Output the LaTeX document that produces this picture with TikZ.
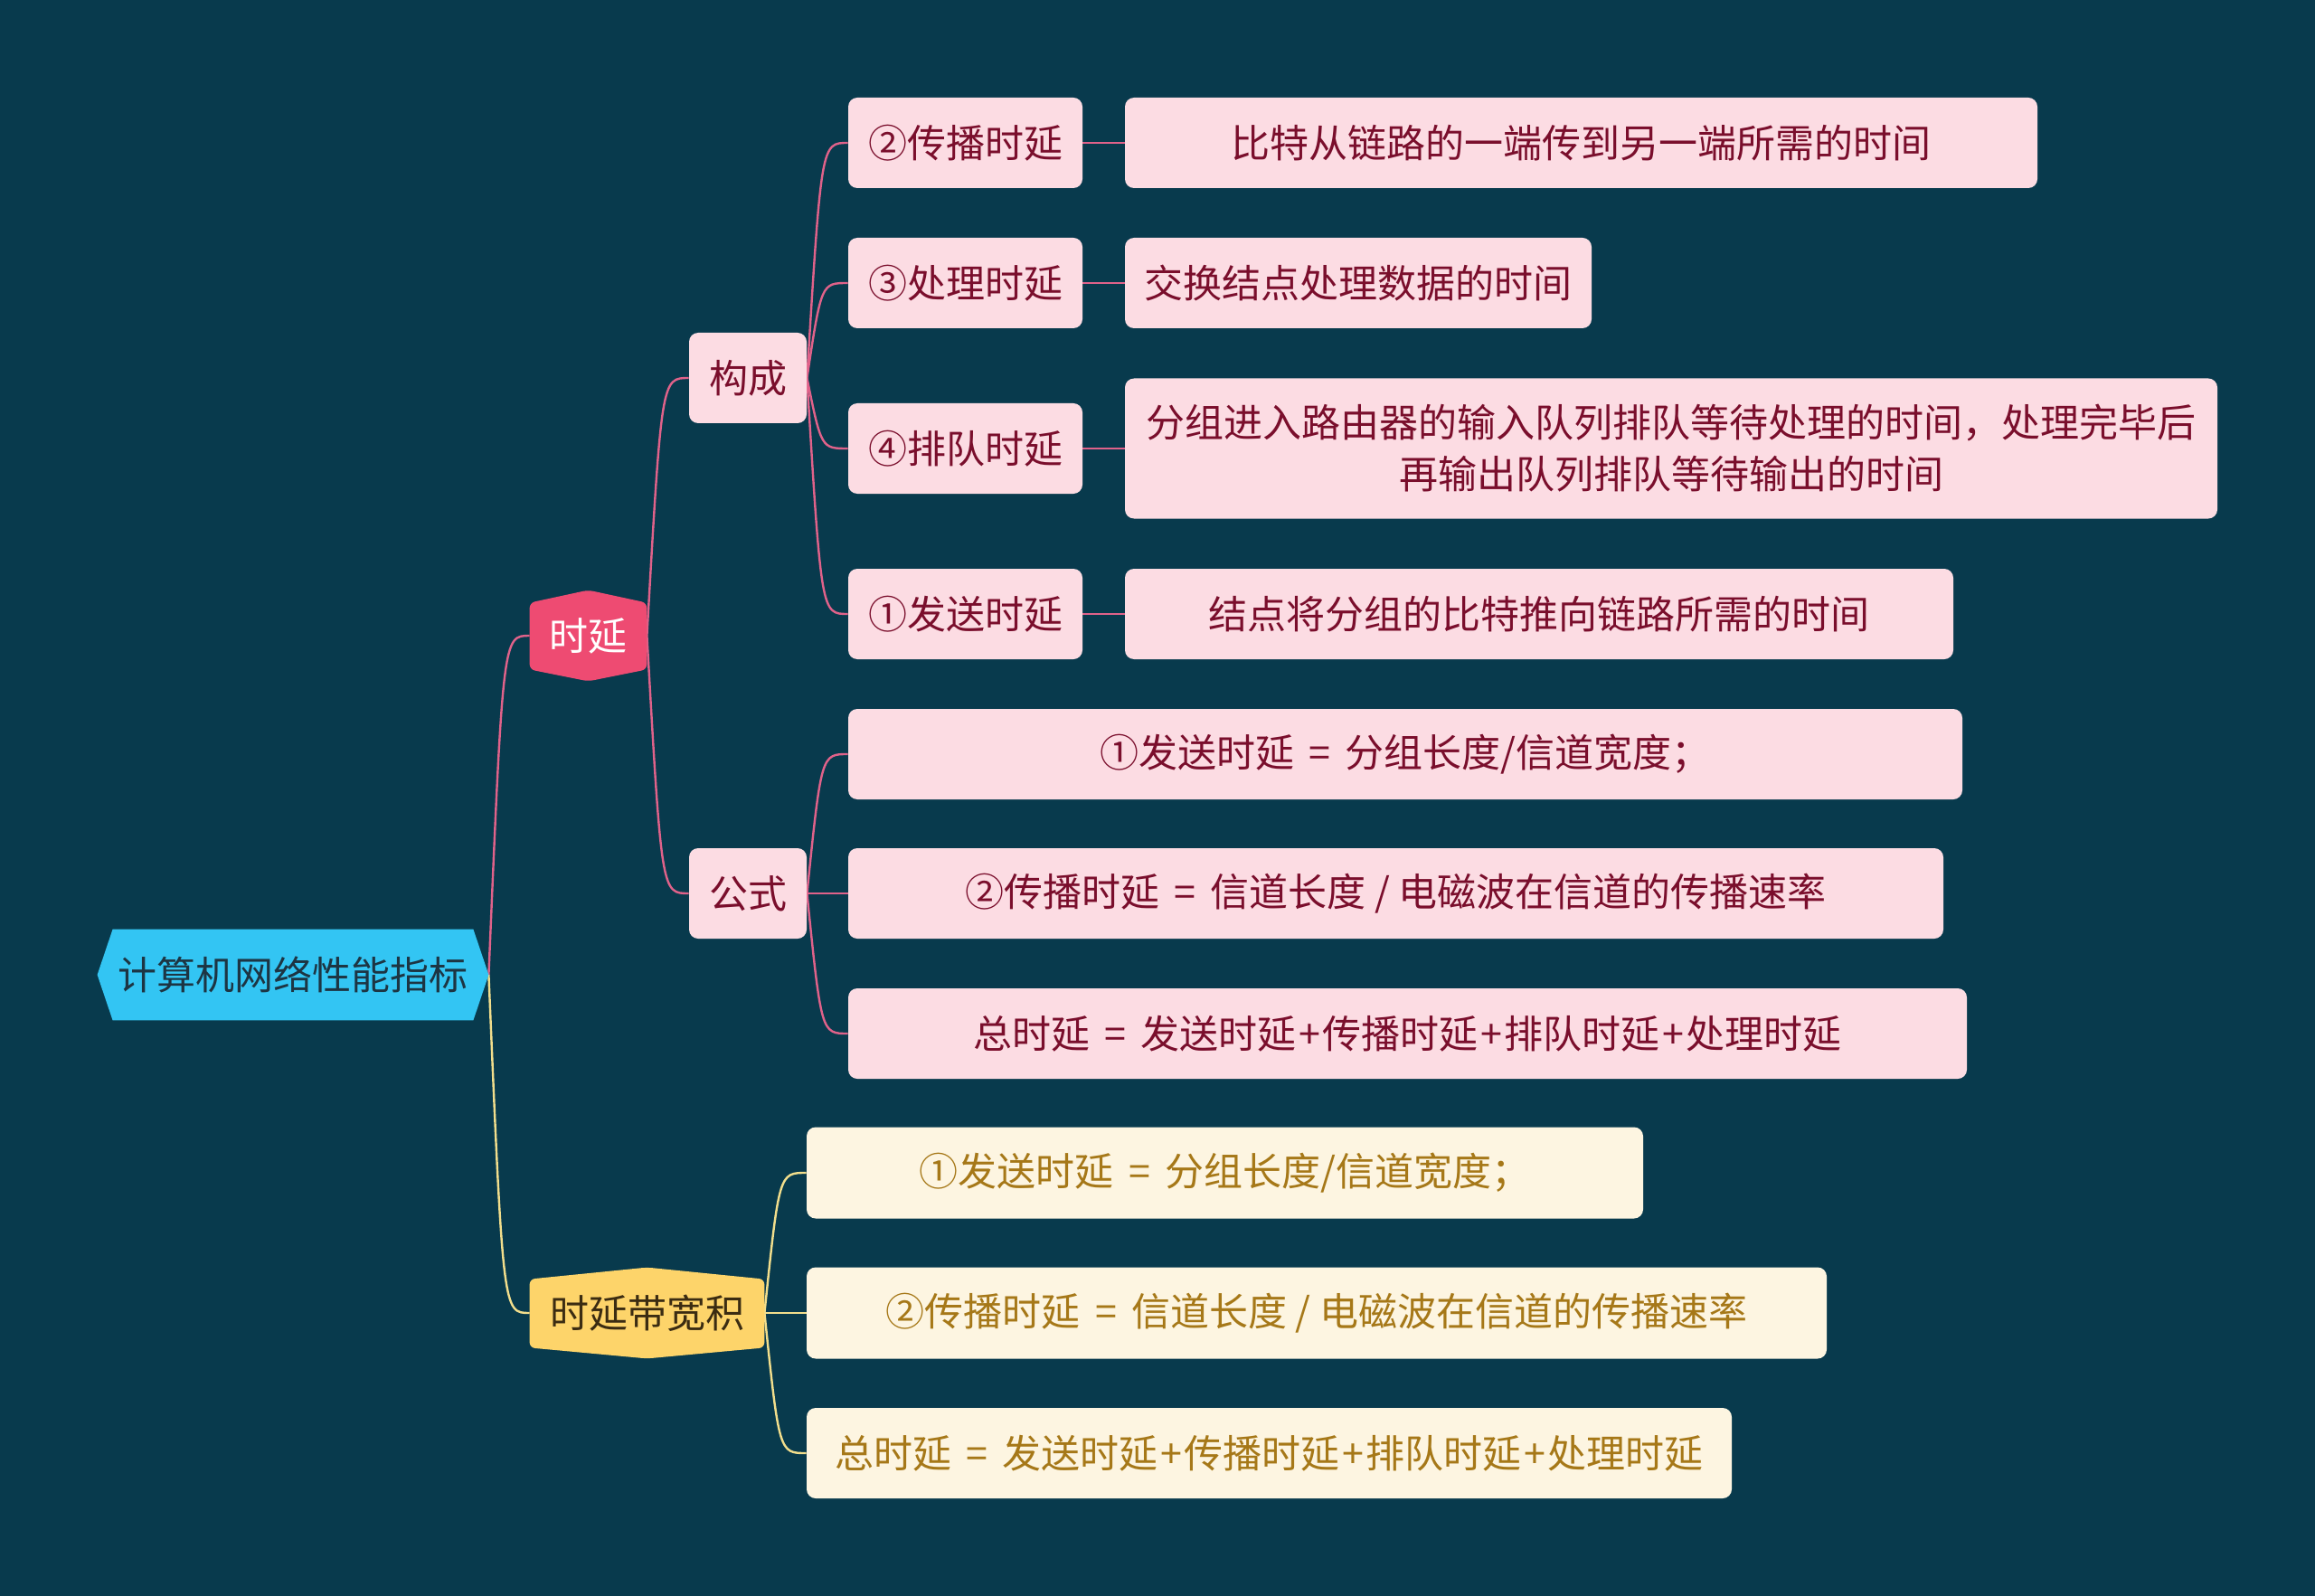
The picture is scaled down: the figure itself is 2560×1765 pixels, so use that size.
\documentclass[tikz,border=0pt]{standalone}
\usepackage{fontspec}
\setmainfont{Noto Sans CJK SC}
\usetikzlibrary{calc}
\pgfdeclarelayer{bg}
\pgfdeclarelayer{edges}
\pgfdeclarelayer{shapes}
\pgfsetlayers{bg,edges,shapes,main}
\definecolor{bgc}{HTML}{083A4D}
\definecolor{rootc}{HTML}{33C5F3}
\definecolor{roottext}{HTML}{1D3543}
\definecolor{syc}{HTML}{EE4B72}
\definecolor{dkc}{HTML}{FDD46A}
\definecolor{dktext}{HTML}{3B2C12}
\definecolor{pinkc}{HTML}{FCDCE3}
\definecolor{pinktext}{HTML}{7A0E2C}
\definecolor{yelc}{HTML}{FDF5E1}
\definecolor{yeltext}{HTML}{A67818}
\definecolor{pedge}{HTML}{E0628A}
\definecolor{yedge}{HTML}{F2DE8C}
\newcommand{\myeq}{\hspace{0.38em}=\hspace{0.38em}}
\newcommand{\myplus}{\hspace{0.06em}+\hspace{0.06em}}
\tikzset{
  txt/.style={inner sep=0pt, font=\fontsize{21.5pt}{28.5pt}\selectfont, align=center},
  box/.style 2 args={minimum width=#1*0.5pt, minimum height=#2*0.5pt},
  pinkbox/.style={txt, fill=pinkc, rounded corners=5pt, text=pinktext},
  yelbox/.style={txt, fill=yelc, rounded corners=5pt, text=yeltext},
  pe/.style={draw=pedge, line width=1.2pt},
  ye/.style={draw=yedge, line width=1.2pt},
  curve/.style={to path={let \p1=(\tikztostart), \p2=(\tikztotarget) in
     .. controls ({\x1+0.35*(\x2-\x1)},\y2) .. (\tikztotarget) \tikztonodes}}
}
\begin{document}
\begin{tikzpicture}[x=0.5pt,y=-0.5pt]
\begin{pgfonlayer}{bg}
\fill[bgc] (0,0) rectangle (2560,1765);
\end{pgfonlayer}
\useasboundingbox (0,0) rectangle (2560,1765);

% main hierarchy
\node[txt, box={432}{100}, text=roottext] (root) at (324,1078) {计算机网络性能指标};
\node[txt, box={129}{100}, text=white] (sy) at (650.5,703) {时延};
\node[txt, box={259}{100}, text=dktext] (dk) at (715.5,1452) {时延带宽积};

\node[pinkbox, box={130}{100}] (gc) at (827,418) {构成};
\node[pinkbox, box={130}{100}] (gs) at (827,988) {公式};

\node[pinkbox, box={259}{100}] (c2) at (1067.5,158) {②传播时延};
\node[pinkbox, box={259}{100}] (c3) at (1067.5,313) {③处理时延};
\node[pinkbox, box={259}{100}] (c4) at (1067.5,496) {④排队时延};
\node[pinkbox, box={259}{100}] (c1) at (1067.5,679) {①发送时延};

\node[pinkbox, box={1009}{100}] (d2) at (1748.5,158) {比特从链路的一端传到另一端所需的时间};
\node[pinkbox, box={516}{100}] (d3) at (1502,313) {交换结点处理数据的时间};
\node[pinkbox, box={1208}{155}] (d4) at (1848,496) {分组进入路由器的输入队列排队等待处理的时间，处理完毕后\\再输出队列排队等待输出的时间};
\node[pinkbox, box={916}{100}] (d1) at (1702,679) {结点将分组的比特推向链路所需的时间};

\node[pinkbox, box={1232}{100}] (f1) at (1554,834) {①发送时延\myeq 分组长度/信道宽度；};
\node[pinkbox, box={1211}{100}] (f2) at (1543.5,988) {②传播时延\myeq 信道长度 / 电磁波在信道的传播速率};
\node[pinkbox, box={1237}{100}] (f3) at (1556.5,1143) {总时延\myeq 发送时延\myplus 传播时延\myplus 排队时延\myplus 处理时延};

\node[yelbox, box={925}{101}] (y1) at (1354.5,1297) {①发送时延\myeq 分组长度/信道宽度；};
\node[yelbox, box={1128}{101}] (y2) at (1456,1452) {②传播时延\myeq 信道长度 / 电磁波在信道的传播速率};
\node[yelbox, box={1023}{100}] (y3) at (1403.5,1607) {总时延\myeq 发送时延\myplus 传播时延\myplus 排队时延\myplus 处理时延};

% hexagon shapes
\begin{pgfonlayer}{shapes}
\fill[rootc] (root.west) -- ([xshift=8.5pt]root.north west) -- ([xshift=-8.5pt]root.north east)
  -- (root.east) -- ([xshift=-8.5pt]root.south east) -- ([xshift=8.5pt]root.south west) -- cycle;
\fill[syc, rounded corners=3pt] (sy.north) -- ([yshift=-7pt]sy.north east) -- ([yshift=6.5pt]sy.south east)
  -- (sy.south) -- ([yshift=6.5pt]sy.south west) -- ([yshift=-7pt]sy.north west) -- cycle;
\fill[dkc, rounded corners=3pt] (dk.north) -- ([yshift=-6.5pt]dk.north east) -- ([yshift=6pt]dk.south east)
  -- (dk.south) -- ([yshift=6pt]dk.south west) -- ([yshift=-6.5pt]dk.north west) -- cycle;
\end{pgfonlayer}

% connectors
\begin{pgfonlayer}{edges}
\draw[pe] (root.east) to[curve] (sy.west);
\draw[pe] (sy.east) to[curve] (gc.west);
\draw[pe] (sy.east) to[curve] (gs.west);
\draw[pe] (gc.east) to[curve] (c2.west);
\draw[pe] (gc.east) to[curve] (c3.west);
\draw[pe] (gc.east) to[curve] (c4.west);
\draw[pe] (gc.east) to[curve] (c1.west);
\draw[pe] (c2.east) -- (d2.west);
\draw[pe] (c3.east) -- (d3.west);
\draw[pe] (c4.east) -- (d4.west);
\draw[pe] (c1.east) -- (d1.west);
\draw[pe] (gs.east) to[curve] (f1.west);
\draw[pe] (gs.east) -- (f2.west);
\draw[pe] (gs.east) to[curve] (f3.west);
\draw[ye] (root.east) to[curve] (dk.west);
\draw[ye] (dk.east) to[curve] (y1.west);
\draw[ye] (dk.east) -- (y2.west);
\draw[ye] (dk.east) to[curve] (y3.west);
\end{pgfonlayer}
\end{tikzpicture}
\end{document}
